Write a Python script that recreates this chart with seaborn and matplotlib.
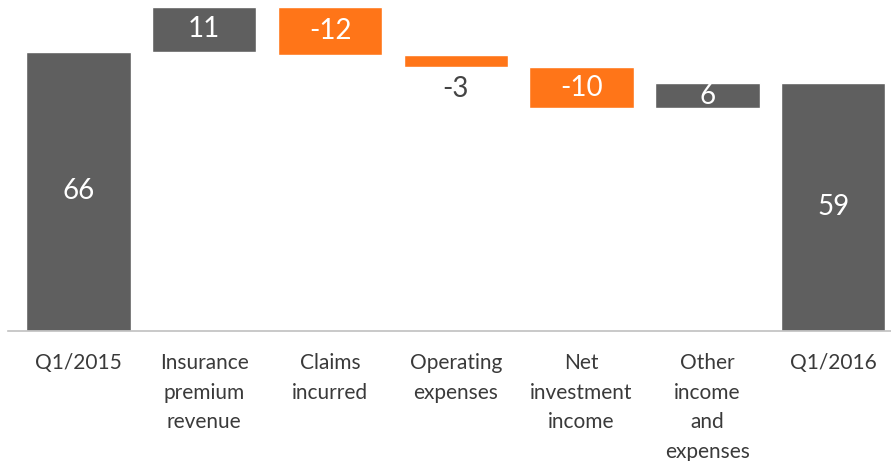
import matplotlib
matplotlib.use("Agg")
import matplotlib.pyplot as plt
import seaborn as sns
import pandas as pd
import numpy as np

categories = ["Q1/2015", "Insurance\npremium\nrevenue", "Claims\nincurred",
              "Operating\nexpenses", "Net\ninvestment\nincome",
              "Other\nincome\nand\nexpenses", "Q1/2016"]
values = [66.0, 10.7, -11.4, -2.8, -9.8, 5.9, 58.6]
labels = ["66", "11", "-12", "-3", "-10", "6", "59"]
is_total = [True, False, False, False, False, False, True]

GRAY = "#5f5f5f"
ORANGE = "#ff7518"

sns.set_theme(style="white")
plt.rcParams["font.family"] = ["Lato", "DejaVu Sans"]

bottoms, tops, colors = [], [], []
run = 0.0
for v, t in zip(values, is_total):
    if t:
        b, tp = 0.0, v
        run = v
    else:
        b, tp = (run, run + v) if v >= 0 else (run + v, run)
        run = run + v
    bottoms.append(b)
    tops.append(tp)
    colors.append(GRAY if v >= 0 else ORANGE)

df = pd.DataFrame({"cat": categories, "top": tops, "bottom": bottoms})

fig = plt.figure(figsize=(8.91, 4.61), dpi=100)
ax = fig.add_axes([8 / 891, 130 / 461, 883 / 891, 331 / 461])

sns.barplot(data=df, x="cat", y="top", hue="cat", palette=colors, legend=False,
            width=0.83, ax=ax, saturation=1)
sns.barplot(data=df, x="cat", y="bottom", color="white", width=0.85, ax=ax,
            saturation=1)

ax.set_xlim(-0.56, 6.46)
ax.set_ylim(0, 78.3)
ax.set_xlabel("")
ax.set_ylabel("")
ax.set_yticks([])
for s in ["top", "left", "right"]:
    ax.spines[s].set_visible(False)
ax.spines["bottom"].set_color("#c0c0c0")
ax.spines["bottom"].set_linewidth(1.2)
ax.tick_params(axis="x", length=0, pad=16)
for t in ax.get_xticklabels():
    t.set_fontsize(15)
    t.set_fontweight("normal")
    t.set_color("#3a3a3a")
    t.set_linespacing(1.6)
    t.set_verticalalignment("top")

for i, (b, tp, lab) in enumerate(zip(bottoms, tops, labels)):
    h = tp - b
    if h < 4:
        ax.annotate(lab, (i, b), xytext=(0, -16), textcoords="offset points",
                    ha="center", va="center", fontsize=20, fontweight="normal",
                    color="#444444")
    else:
        ax.text(i, (b + tp) / 2, lab, ha="center", va="center",
                fontsize=20, fontweight="normal", color="white")

fig.savefig("out.png", dpi=100)
